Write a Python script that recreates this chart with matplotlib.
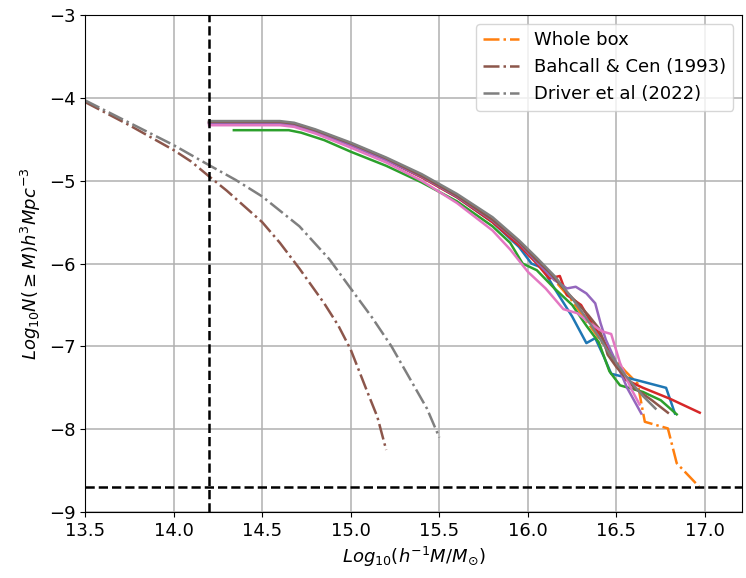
import numpy as np
import matplotlib
matplotlib.use("Agg")
import matplotlib.pyplot as plt

# sub-box cumulative mass functions (log10 M, log10 N(>=M))
blue_x = [14.2, 14.4, 14.6, 14.68, 14.8, 15.0, 15.2, 15.4, 15.6, 15.8, 15.95, 16.02, 16.08, 16.15, 16.25, 16.33, 16.38, 16.43, 16.47, 16.62, 16.78, 16.83]
blue_y = [-4.30, -4.30, -4.30, -4.32, -4.40, -4.56, -4.74, -4.95, -5.2, -5.5, -5.8, -6.0, -6.05, -6.3, -6.64, -6.96, -6.9, -7.13, -7.33, -7.41, -7.5, -7.81]

green_x = [14.34, 14.5, 14.65, 14.72, 14.85, 15.0, 15.2, 15.4, 15.6, 15.8, 15.9, 15.97, 16.05, 16.15, 16.25, 16.33, 16.4, 16.46, 16.52, 16.65, 16.75, 16.84]
green_y = [-4.39, -4.39, -4.39, -4.42, -4.51, -4.65, -4.82, -5.02, -5.25, -5.55, -5.75, -6.0, -6.08, -6.3, -6.5, -6.75, -6.95, -7.3, -7.47, -7.55, -7.65, -7.82]

red_x = [14.2, 14.4, 14.6, 14.68, 14.8, 15.0, 15.2, 15.4, 15.6, 15.8, 15.95, 16.05, 16.12, 16.18, 16.22, 16.3, 16.36, 16.42, 16.48, 16.55, 16.65, 16.8, 16.97]
red_y = [-4.30, -4.30, -4.30, -4.32, -4.40, -4.57, -4.75, -4.96, -5.2, -5.5, -5.78, -6.0, -6.18, -6.15, -6.38, -6.5, -6.72, -6.9, -7.15, -7.4, -7.5, -7.63, -7.8]

purple_x = [14.2, 14.4, 14.6, 14.68, 14.8, 15.0, 15.2, 15.4, 15.6, 15.8, 15.95, 16.05, 16.15, 16.22, 16.27, 16.33, 16.38, 16.41, 16.44, 16.5, 16.56, 16.64]
purple_y = [-4.31, -4.31, -4.31, -4.33, -4.41, -4.57, -4.75, -4.95, -5.19, -5.48, -5.75, -5.98, -6.2, -6.3, -6.28, -6.36, -6.48, -6.72, -6.92, -7.2, -7.5, -7.81]

brown_x = [14.2, 14.4, 14.6, 14.68, 14.8, 15.0, 15.2, 15.4, 15.6, 15.8, 15.95, 16.05, 16.12, 16.2, 16.28, 16.34, 16.4, 16.43, 16.45, 16.5, 16.6, 16.7, 16.79]
brown_y = [-4.29, -4.29, -4.29, -4.31, -4.39, -4.55, -4.73, -4.94, -5.18, -5.47, -5.74, -5.96, -6.1, -6.3, -6.48, -6.62, -6.78, -6.95, -7.1, -7.25, -7.5, -7.65, -7.8]

pink_x = [14.2, 14.4, 14.6, 14.68, 14.8, 15.0, 15.2, 15.4, 15.6, 15.8, 15.9, 16.0, 16.1, 16.2, 16.28, 16.35, 16.42, 16.47, 16.52, 16.58, 16.63]
pink_y = [-4.33, -4.33, -4.33, -4.35, -4.43, -4.60, -4.78, -5.0, -5.27, -5.6, -5.83, -6.1, -6.3, -6.55, -6.6, -6.72, -6.82, -6.85, -7.2, -7.5, -7.7]

grey_x = [14.2, 14.4, 14.6, 14.68, 14.8, 15.0, 15.2, 15.4, 15.6, 15.8, 15.95, 16.05, 16.15, 16.25, 16.35, 16.45, 16.55, 16.65, 16.72]
grey_y = [-4.28, -4.28, -4.28, -4.30, -4.38, -4.54, -4.72, -4.92, -5.16, -5.44, -5.72, -5.93, -6.15, -6.42, -6.72, -7.05, -7.35, -7.6, -7.75]

# whole simulation box
whole_x = [14.2, 14.4, 14.6, 14.68, 14.8, 15.0, 15.2, 15.4, 15.6, 15.8, 15.95, 16.05, 16.15, 16.25, 16.35, 16.45, 16.55, 16.62, 16.65, 16.66, 16.79, 16.84, 16.965]
whole_y = [-4.30, -4.30, -4.30, -4.32, -4.40, -4.56, -4.74, -4.94, -5.19, -5.48, -5.76, -5.98, -6.2, -6.45, -6.75, -7.05, -7.3, -7.45, -7.8, -7.91, -7.99, -8.41, -8.69]

# observational fits
bahcall_x = [13.5, 13.75, 14.0, 14.1, 14.19, 14.3, 14.4, 14.5, 14.6, 14.71, 14.85, 14.93, 15.0, 15.09, 15.15, 15.2]
bahcall_y = [-4.05, -4.33, -4.63, -4.77, -4.93, -5.12, -5.31, -5.50, -5.75, -6.06, -6.48, -6.75, -7.04, -7.53, -7.85, -8.25]

driver_x = [13.5, 13.75, 14.0, 14.19, 14.35, 14.5, 14.71, 14.88, 15.02, 15.12, 15.23, 15.35, 15.43, 15.5]
driver_y = [-4.03, -4.3, -4.57, -4.8, -4.99, -5.19, -5.55, -5.95, -6.36, -6.65, -7.0, -7.45, -7.75, -8.1]

mass_cut = 14.2
volume_limit = -8.7

sub_boxes = [
    (blue_x, blue_y, "tab:blue"),
    (green_x, green_y, "tab:green"),
    (red_x, red_y, "tab:red"),
    (purple_x, purple_y, "tab:purple"),
    (brown_x, brown_y, "tab:brown"),
    (pink_x, pink_y, "tab:pink"),
    (grey_x, grey_y, "tab:gray"),
]


def main():
    fs = 13
    fig = plt.figure(figsize=(7.46, 5.78), dpi=100)
    ax = fig.add_axes([0.114, 0.114, 0.881, 0.86])

    ax.plot(whole_x, whole_y, color="tab:orange", ls="-.", lw=1.8, label="Whole box")
    for xs, ys, c in sub_boxes:
        ax.plot(xs, ys, color=c, lw=1.8)

    ax.plot(bahcall_x, bahcall_y, color="tab:brown", ls="-.", lw=1.8, label="Bahcall & Cen (1993)")
    ax.plot(driver_x, driver_y, color="tab:gray", ls="-.", lw=1.8, label="Driver et al (2022)")

    ax.axvline(mass_cut, color="k", ls="--", lw=1.8)
    ax.axhline(volume_limit, color="k", ls="--", lw=1.8)

    ax.set_xlim(13.5, 17.21)
    ax.set_ylim(-9, -3)
    ax.set_xticks(np.arange(13.5, 17.01, 0.5))
    ax.set_yticks(np.arange(-9, -2.9, 1))
    ax.grid(True, color="#b0b0b0", lw=1.1)
    ax.tick_params(labelsize=fs)

    ax.set_xlabel(r"$Log_{10}(h^{-1}M/M_{\odot})$", fontsize=fs)
    ax.set_ylabel(r"$Log_{10}N(\geq M)h^3Mpc^{-3}$", fontsize=fs)
    ax.legend(loc="upper right", fontsize=fs)

    fig.savefig("out.png", dpi=100)


if __name__ == "__main__":
    main()
